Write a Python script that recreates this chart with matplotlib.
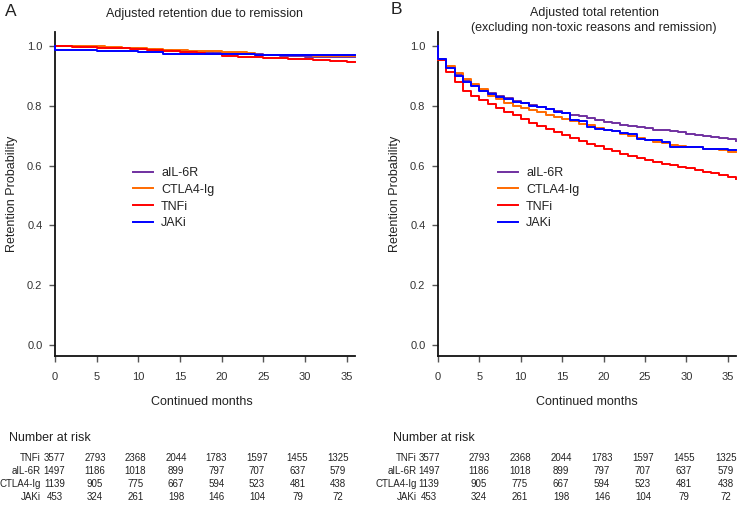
import matplotlib

matplotlib.use("Agg")
import matplotlib.pyplot as plt
import numpy as np

plt.rcParams["font.family"] = ["Liberation Sans", "DejaVu Sans"]

W, H = 739, 509

groups = ["aIL-6R", "CTLA4-Ig", "TNFi", "JAKi"]
colors = {"aIL-6R": "#7030A0", "CTLA4-Ig": "#FF6A00", "TNFi": "#FF0000", "JAKi": "#0000FF"}
months = np.arange(0, 37)

# panel A: retention due to remission, value on [m, m+1)
remission = {
    "aIL-6R": [1.000, 0.999, 0.999, 0.998, 0.997, 0.996, 0.995, 0.994, 0.993, 0.992,
               0.990, 0.989, 0.988, 0.986, 0.985, 0.983, 0.982, 0.981, 0.980, 0.978,
               0.977, 0.976, 0.975, 0.974, 0.973, 0.971, 0.970, 0.968, 0.967, 0.966,
               0.965, 0.964, 0.963, 0.963, 0.962, 0.962, 0.962],
    "CTLA4-Ig": [1.000, 1.000, 1.000, 1.000, 1.000, 1.000, 0.998, 0.997, 0.995, 0.994,
                 0.992, 0.991, 0.989, 0.988, 0.987, 0.986, 0.985, 0.984, 0.983, 0.982,
                 0.981, 0.980, 0.979, 0.978, 0.971, 0.971, 0.970, 0.970, 0.969, 0.969,
                 0.969, 0.968, 0.968, 0.968, 0.967, 0.967, 0.967],
    "TNFi": [1.000, 0.999, 0.998, 0.997, 0.996, 0.995, 0.994, 0.993, 0.992, 0.991,
             0.989, 0.988, 0.987, 0.985, 0.983, 0.981, 0.979, 0.977, 0.975, 0.972,
             0.968, 0.966, 0.965, 0.964, 0.962, 0.961, 0.960, 0.959, 0.957, 0.956,
             0.955, 0.953, 0.952, 0.951, 0.950, 0.948, 0.947],
    "JAKi": [0.988, 0.988, 0.988, 0.988, 0.988, 0.984, 0.984, 0.984, 0.984, 0.984,
             0.979, 0.979, 0.979, 0.973, 0.973, 0.973, 0.973, 0.973, 0.973, 0.973,
             0.973, 0.973, 0.973, 0.973, 0.970, 0.970, 0.970, 0.970, 0.970, 0.970,
             0.970, 0.970, 0.970, 0.970, 0.970, 0.970, 0.970],
}

# panel B: total retention
total = {
    "aIL-6R": [0.956, 0.930, 0.905, 0.885, 0.870, 0.853, 0.842, 0.833, 0.825, 0.816,
               0.810, 0.802, 0.797, 0.790, 0.782, 0.777, 0.770, 0.765, 0.758, 0.752,
               0.746, 0.741, 0.737, 0.733, 0.729, 0.725, 0.720, 0.718, 0.715, 0.711,
               0.707, 0.704, 0.700, 0.697, 0.693, 0.688, 0.682],
    "CTLA4-Ig": [0.954, 0.934, 0.909, 0.890, 0.873, 0.856, 0.834, 0.823, 0.810, 0.800,
                 0.792, 0.785, 0.779, 0.770, 0.762, 0.755, 0.748, 0.740, 0.735, 0.727,
                 0.720, 0.715, 0.707, 0.700, 0.693, 0.685, 0.680, 0.674, 0.668, 0.666,
                 0.663, 0.661, 0.657, 0.654, 0.651, 0.646, 0.646],
    "TNFi": [0.953, 0.912, 0.881, 0.851, 0.834, 0.818, 0.805, 0.792, 0.779, 0.768,
             0.756, 0.744, 0.733, 0.722, 0.712, 0.702, 0.692, 0.683, 0.673, 0.664,
             0.656, 0.648, 0.640, 0.633, 0.626, 0.619, 0.613, 0.607, 0.601, 0.596,
             0.591, 0.586, 0.580, 0.574, 0.568, 0.562, 0.555],
    "JAKi": [0.956, 0.928, 0.900, 0.881, 0.867, 0.851, 0.840, 0.831, 0.823, 0.814,
             0.810, 0.800, 0.796, 0.790, 0.780, 0.777, 0.751, 0.748, 0.729, 0.724,
             0.720, 0.715, 0.710, 0.705, 0.690, 0.687, 0.684, 0.680, 0.663, 0.663,
             0.662, 0.661, 0.657, 0.656, 0.655, 0.653, 0.652],
}

risk_months = [0, 5, 10, 15, 20, 25, 30, 35]
risk_rows = ["TNFi", "aIL-6R", "CTLA4-Ig", "JAKi"]
at_risk = {
    "TNFi": [3577, 2793, 2368, 2044, 1783, 1597, 1455, 1325],
    "aIL-6R": [1497, 1186, 1018, 899, 797, 707, 637, 579],
    "CTLA4-Ig": [1139, 905, 775, 667, 594, 523, 481, 438],
    "JAKi": [453, 324, 261, 198, 146, 104, 79, 72],
}

TXT = "#222222"


def fx(x):
    return x / W


def fy(y):
    return 1 - y / H


def draw_panel(ax, data):
    for g in groups:
        vals = data[g]
        ax.step(np.r_[0, months], np.r_[1.0, vals], where="post", color=colors[g], lw=1.4,
                label=g, zorder=3, clip_on=False)
    ax.set_xlim(0, 36)
    ax.set_ylim(-0.037, 1.047)
    ax.set_xticks(risk_months)
    ax.set_yticks([0.0, 0.2, 0.4, 0.6, 0.8, 1.0])
    ax.set_yticklabels([f"{v:.1f}" for v in ax.get_yticks()])
    for side in ("top", "right"):
        ax.spines[side].set_visible(False)
    for side in ("left", "bottom"):
        ax.spines[side].set_linewidth(1.3)
        ax.spines[side].set_color("#111111")
    ax.tick_params(axis="x", length=4.5, width=1.0, pad=7, labelsize=8, colors="#555555", labelcolor="#333333")
    ax.tick_params(axis="y", length=4.5, width=1.0, pad=4.5, labelsize=8, colors="#555555", labelcolor="#333333")


fig = plt.figure(figsize=(W / 100, H / 100), dpi=100)
axA = fig.add_axes([fx(55), fy(356), fx(355 - 55), (356 - 32) / H])
axB = fig.add_axes([fx(438), fy(356), fx(736 - 438), (356 - 32) / H])
draw_panel(axA, remission)
draw_panel(axB, total)

for ax, lx in ((axA, 133), (axB, 498)):
    ax.legend(loc="upper left", bbox_to_anchor=(fx(lx), fy(167)), bbox_transform=fig.transFigure,
              frameon=False, fontsize=9, handlelength=1.6, handletextpad=0.65,
              labelspacing=0.38, borderpad=0, borderaxespad=0, labelcolor=TXT)

fig.text(fx(11), fy(11), "A", fontsize=12.5, ha="center", va="center", color=TXT)
fig.text(fx(396), fy(9), "B", fontsize=12.5, ha="center", va="center", color=TXT)
fig.text(fx(204), fy(14), "Adjusted retention due to remission", fontsize=9, ha="center", va="center", color=TXT)
fig.text(fx(594), fy(13), "Adjusted total retention", fontsize=9, ha="center", va="center", color=TXT)
fig.text(fx(594), fy(28), "(excluding non-toxic reasons and remission)", fontsize=9, ha="center", va="center", color=TXT)

for x in (12, 395):
    fig.text(fx(x), fy(194), "Retention Probability", fontsize=9, rotation=90, ha="center", va="center", color=TXT)
for x in (202, 587):
    fig.text(fx(x), fy(402), "Continued months", fontsize=9, ha="center", va="center", color=TXT)

# number at risk tables
tables = [
    (9, 41, [54.5 + 40.5 * i for i in range(8)]),
    (393, 416.5, [429, 479, 520, 561, 602, 643, 684, 726]),
]
row_y = [458, 471, 484, 497]
for left, label_right, cols in tables:
    fig.text(fx(left), fy(438), "Number at risk", fontsize=9, ha="left", va="center", color=TXT)
    for g, y in zip(risk_rows, row_y):
        fig.text(fx(label_right), fy(y), g, fontsize=7, ha="right", va="center", color=TXT)
        for x, n in zip(cols, at_risk[g]):
            fig.text(fx(x), fy(y), str(n), fontsize=7, ha="center", va="center", color=TXT)

fig.savefig("out.png", dpi=100)
